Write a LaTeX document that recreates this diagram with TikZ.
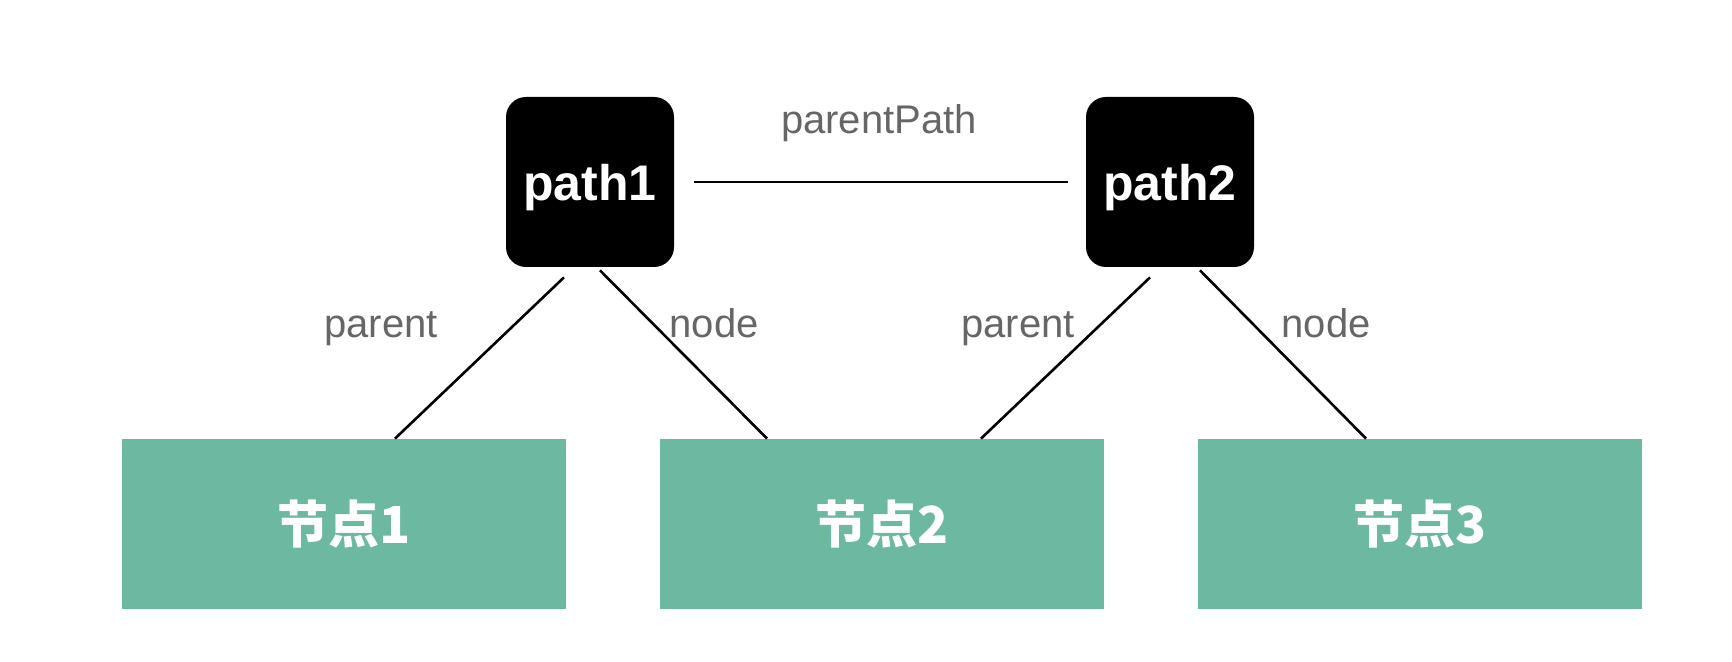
\documentclass[tikz,border=0pt]{standalone}
\usepackage{fontspec}
\setmainfont{Liberation Sans}
\newfontfamily\cjkfont{Noto Sans CJK SC}
\usetikzlibrary{positioning}
\definecolor{nodegreen}{HTML}{6CB8A0}
\definecolor{labelgray}{HTML}{666666}
\tikzset{
  pathbox/.style={fill=black, rounded corners=10pt, minimum width=84pt, minimum height=85pt,
    text=white, font=\bfseries\fontsize{25}{25}\selectfont, inner sep=0pt, text depth=0pt},
  greenbox/.style={fill=nodegreen, minimum width=222pt, minimum height=85pt,
    text=white, font=\cjkfont\bfseries\fontsize{25.5}{25.5}\selectfont, inner sep=0pt},
  lbl/.style={text=labelgray, font=\fontsize{20}{20}\selectfont, anchor=base, inner sep=0pt},
  link/.style={line width=1.3pt}
}
\begin{document}
\begin{tikzpicture}[x=0.5pt,y=-0.5pt]
    \useasboundingbox[fill=white] (0,0) rectangle (1732,662);

    \node[pathbox] (p1) at (590,182) {path1};
    \node[pathbox] (p2) at (1170,182) {path2};

    \node[greenbox] (n1) at (344,524) {节点1};
    \node[greenbox] (n2) at (882,524) {节点2};
    \node[greenbox] (n3) at (1420,524) {节点3};

    \draw[link, shorten <=10pt, shorten >=9pt] (p1) -- (p2);
    \node[lbl] (lpp) at (879,134) {parentPath};

    \draw[link] ([xshift=-13pt,yshift=-5pt]p1.south) -- ([xshift=25.5pt]n1.north);
    \draw[link] ([xshift=5pt,yshift=-1.5pt]p1.south) -- ([xshift=-57.5pt]n2.north);
    \draw[link] ([xshift=-10pt,yshift=-5pt]p2.south) -- ([xshift=49.5pt]n2.north);
    \draw[link] ([xshift=15pt,yshift=-1.5pt]p2.south) -- ([xshift=-27pt]n3.north);

    \node[lbl] (lp1) at (381,337) {parent};
    \node[lbl] (ln1) at (714,337) {node};
    \node[lbl] (lp2) at (1018,337) {parent};
    \node[lbl] (ln2) at (1326,337) {node};
\end{tikzpicture}
\end{document}
